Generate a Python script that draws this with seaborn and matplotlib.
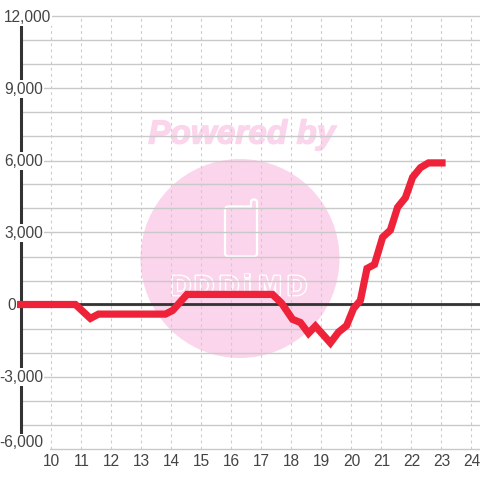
import matplotlib
matplotlib.use("Agg")
import matplotlib.pyplot as plt
import matplotlib.patheffects as pe
from matplotlib.patches import Ellipse, FancyBboxPatch, Rectangle
from matplotlib.transforms import blended_transform_factory
import numpy as np
import pandas as pd
import seaborn as sns

hours = [8.88, 10, 10.83, 11.33, 11.6, 13.83, 14.07, 14.55, 17.4, 17.7, 18.07, 18.33, 18.6, 18.83,
         19.33, 19.6, 19.87, 20.1, 20.33, 20.55, 20.8, 21.07, 21.33, 21.57, 21.83, 22.07, 22.33,
         22.6, 23.17]
values = [0, 0, 0, -580, -400, -400, -250, 420, 420, 60, -620, -750, -1200, -900,
          -1600, -1150, -880, -170, 170, 1500, 1670, 2800, 3100, 4050, 4450, 5300, 5700,
          5900, 5900]
y_ticks = [-6000, -3000, 0, 3000, 6000, 9000, 12000]
x_ticks = list(range(10, 25))
logo_letters = ["D", "D", "D", "i", "M", "D"]

sns.set_theme(style="white", rc={"font.family": ["Liberation Sans", "DejaVu Sans"]})
fig = plt.figure(figsize=(4.8, 4.8), dpi=100, facecolor="white")
ax = fig.add_axes([20.5 / 480, 1 - 448.5 / 480, (480 - 20.5) / 480, (448.5 - 16.5) / 480])
ax.set_xlim(9, 9 + (480 - 20.5) / 30)
ax.set_ylim(-6000, 12000)

PINK = "#FBD5EC"
GRID = "#C9C9C9"
DARK = "#333333"
TXT = "#444444"


def fx(px):
    return (px - 20.5) / (480 - 20.5)


def fy(py):
    return (448.5 - py) / 432


T = ax.transAxes
# watermark
ax.add_patch(Ellipse((fx(240), fy(258.5)), 199 / 459.5, 199 / 432, transform=T, fc=PINK, ec="none", zorder=0.5))
ax.text(fx(242), fy(135), "Powered by", transform=T, ha="center", va="center", color=PINK,
        fontsize=24, fontweight="bold", fontstyle="italic", zorder=0.5,
        path_effects=[pe.withStroke(linewidth=1.0, foreground=PINK)])
ax.add_patch(FancyBboxPatch((fx(251), fy(212)), 6 / 459.5, 12.5 / 432, transform=T, fc=PINK, ec="white", lw=1.6,
                            boxstyle="round,pad=0,rounding_size=0.006", zorder=0.6))
ax.add_patch(FancyBboxPatch((fx(225), fy(256.5)), 32 / 459.5, 50 / 432, transform=T, fc=PINK, ec="white", lw=1.6,
                            boxstyle="round,pad=0,rounding_size=0.008", zorder=0.61))
ax.add_patch(Rectangle((fx(252), fy(210)), 4 / 459.5, 6 / 432, transform=T, fc=PINK, ec="none", zorder=0.62))
for ch, px, size in zip(logo_letters, [181, 204, 229, 247, 270, 297], [20, 20, 20, 22, 20, 20]):
    ax.text(fx(px), fy(288), ch, transform=T, ha="center", va="center", color=PINK, fontsize=size,
            fontweight="bold", zorder=0.6,
            path_effects=[pe.withStroke(linewidth=2.0, foreground="white")])

# grid
ax.grid(False)
for v in np.arange(-6000, 12001, 1000):
    x0 = fx(50) if v == -6000 else 0
    ax.plot([x0, 1], [(v + 6000) / 18000] * 2, transform=T, color=GRID, lw=1.0, zorder=1, clip_on=False)
for h in x_ticks:
    ax.axvline(h, color="#CCCCCC", lw=0.8, ls=(0, (2.5, 3)), zorder=1)
ax.tick_params(left=False, bottom=False, labelleft=False, labelbottom=False)
for s in ("top", "right", "bottom"):
    ax.spines[s].set_visible(False)
ax.spines["left"].set_color(DARK)
ax.spines["left"].set_linewidth(2.2)
ax.spines["left"].set_zorder(2)
ax.axhline(0, color=DARK, lw=2.0, zorder=2)

df = pd.DataFrame({"hour": hours, "value": values})
sns.lineplot(data=df, x="hour", y="value", color="#EE2238", linewidth=5.2, ax=ax, zorder=3, sort=False,
             estimator=None, errorbar=None, solid_joinstyle="miter", solid_capstyle="butt", clip_on=False)
ax.set_xlabel("")
ax.set_ylabel("")

trans = blended_transform_factory(T, ax.transData)
label_right = {-6000: 43, -3000: 43, 0: 16, 3000: 43, 6000: 43, 9000: 43, 12000: 51}
for v in y_ticks:
    yy = (v + 270 if v == -6000 else v) - 30
    ax.text(fx(label_right[v]), yy, f"{v:,}", ha="right", va="center", fontsize=11.2, color=TXT, zorder=5,
            transform=trans, clip_on=False, bbox=dict(fc="white", ec="none", pad=1.0))
for h in x_ticks:
    ax.text(h + 0.03, fy(461.5), str(h), ha="center", va="center", fontsize=11.2, color=TXT,
            transform=ax.get_xaxis_transform(), clip_on=False)

fig.savefig("out.png", dpi=100, facecolor="white")
